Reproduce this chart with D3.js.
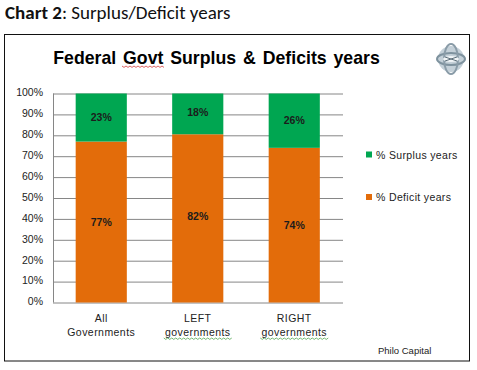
<!DOCTYPE html>
<html>
<head>
<meta charset="utf-8">
<script src="https://cdn.jsdelivr.net/npm/d3@7"></script>
<style>
  html, body { margin: 0; padding: 0; background: #fff; }
  svg { display: block; }
  text { font-family: "Liberation Sans", Arial, sans-serif; fill: #222; }
</style>
</head>
<body>
<svg id="chart" width="477" height="370"></svg>
<script>
const categories = ["All|Governments", "LEFT|governments", "RIGHT|governments"];
const deficit = [77, 80.5, 74];   // drawn height, LEFT bar is not what its label says
const surplusLabels = [23, 18, 26];
const deficitLabels = [77, 82, 74];
const ticks = [0, 10, 20, 30, 40, 50, 60, 70, 80, 90, 100];
const legendNames = ["% Surplus years", "% Deficit years"];

const GREEN = "#00a651", ORANGE = "#e36c0a";
const svg = d3.select("#chart");

// heading above the box
const heading = svg.append("text").attr("x", 5).attr("y", 19)
    .style("font-family", "Carlito, 'Open Sans', 'Noto Sans', sans-serif").style("font-size", "19px").style("fill", "#111");
heading.append("tspan").style("font-weight", "bold").text("Chart 2");
heading.append("tspan").text(": Surplus/Deficit years");

// frame
svg.append("rect").attr("x", 4.5).attr("y", 34.5).attr("width", 465).attr("height", 326.5)
    .attr("fill", "#fff").attr("stroke", "#111").attr("stroke-width", 1);

svg.append("text").attr("x", 216.5).attr("y", 64).attr("text-anchor", "middle")
    .style("font-size", "17.7px").style("font-weight", "bold").style("fill", "#000").style("word-spacing", "2px")
    .text("Federal Govt Surplus & Deficits years");

const x = d3.scaleBand().domain(categories).range([53, 342.5]).paddingInner(0.47).paddingOuter(0.235);
const y = d3.scaleLinear().domain([0, 100]).range([302.5, 93.5]);

// gridlines + axis
const yAxis = d3.axisLeft(y).tickValues(ticks).tickFormat(d => d + "%").tickSize(0).tickPadding(10);
const yg = svg.append("g").attr("transform", "translate(53,-1)").call(yAxis);
yg.select(".domain").remove();
yg.selectAll("text").style("font-size", "10.5px");
svg.append("line").attr("x1", 53.5).attr("x2", 53.5).attr("y1", y(100)).attr("y2", y(0)).attr("stroke", "#868686");
svg.append("g").selectAll("line").data(ticks).join("line")
    .attr("x1", 53).attr("x2", 343).attr("y1", d => y(d) + 0.5).attr("y2", d => y(d) + 0.5)
    .attr("stroke", "#868686").attr("stroke-width", 1);

// bars
svg.append("g").selectAll("rect").data(categories).join("rect")
    .attr("x", d => x(d)).attr("width", x.bandwidth())
    .attr("y", (d, i) => y(deficit[i])).attr("height", (d, i) => y(0) - y(deficit[i]))
    .attr("fill", ORANGE);
svg.append("g").selectAll("rect").data(categories).join("rect")
    .attr("x", d => x(d)).attr("width", x.bandwidth())
    .attr("y", y(100)).attr("height", (d, i) => y(deficit[i]) - y(100))
    .attr("fill", GREEN);

// bar labels sit where the labelled values would put them
const labelStyle = s => s.attr("text-anchor", "middle").style("font-size", "10.5px").style("font-weight", "bold").style("fill", "#1c1c1c");
svg.append("g").selectAll("text").data(categories).join("text")
    .attr("x", d => x(d) + x.bandwidth() / 2)
    .attr("y", (d, i) => y(deficitLabels[i] / 2) + 3.5)
    .text((d, i) => deficitLabels[i] + "%").call(labelStyle);
svg.append("g").selectAll("text").data(categories).join("text")
    .attr("x", d => x(d) + x.bandwidth() / 2)
    .attr("y", (d, i) => y(100 - surplusLabels[i] / 2) + 3.5)
    .text((d, i) => surplusLabels[i] + "%").call(labelStyle);

// category labels, the spell-check squiggles are part of the screenshot
const squiggle = (x0, x1, yy, color) => {
  const pts = d3.range(x0, x1 + 1, 2).map((px, i) => [px, yy + (i % 2 ? 1.4 : 0)]);
  return svg.append("path").attr("d", d3.line()(pts)).attr("fill", "none").attr("stroke", color).attr("stroke-width", 0.7);
};
categories.forEach(c => {
  const cx = x(c) + x.bandwidth() / 2;
  c.split("|").forEach((t, i) => {
    svg.append("text").attr("x", cx).attr("y", 322 + i * 14).attr("text-anchor", "middle")
        .style("font-size", "10.5px").style("letter-spacing", "0.45px").text(t);
  });
  if (c.endsWith("governments")) squiggle(cx - 34, cx + 34, 338, "#3a9a3a");
});
squiggle(122, 164, 66, "#d02020");

// legend
const legendY = d3.scalePoint().domain(legendNames).range([154.5, 197]);
const legend = svg.append("g").selectAll("g").data(legendNames).join("g")
    .attr("transform", d => `translate(366,${legendY(d)})`);
legend.append("rect").attr("y", -3).attr("width", 6).attr("height", 6)
    .attr("fill", (d, i) => i ? ORANGE : GREEN);
legend.append("text").attr("x", 10).attr("y", 4).style("font-size", "10.5px").style("letter-spacing", "0.35px").text(d => d);

svg.append("text").attr("x", 378).attr("y", 354).style("font-size", "9.5px").text("Philo Capital");

// logo, small grey gyroscope mark
const logo = svg.append("g").attr("transform", "translate(451,59)").attr("fill", "none");
logo.append("circle").attr("r", 13).attr("fill", "#c4d0d8");
logo.append("ellipse").attr("rx", 14).attr("ry", 6).attr("stroke", "#7e929e").attr("stroke-width", 2);
logo.append("ellipse").attr("rx", 7).attr("ry", 15).attr("stroke", "#8a9ca8").attr("stroke-width", 2);
logo.append("ellipse").attr("rx", 8).attr("ry", 3).attr("fill", "#f0f4f6");
logo.append("path").attr("d", "M-6,-2L6,2M-6,2L6,-2").attr("stroke", "#5d6f7a").attr("stroke-width", 1);
</script>
</body>
</html>
